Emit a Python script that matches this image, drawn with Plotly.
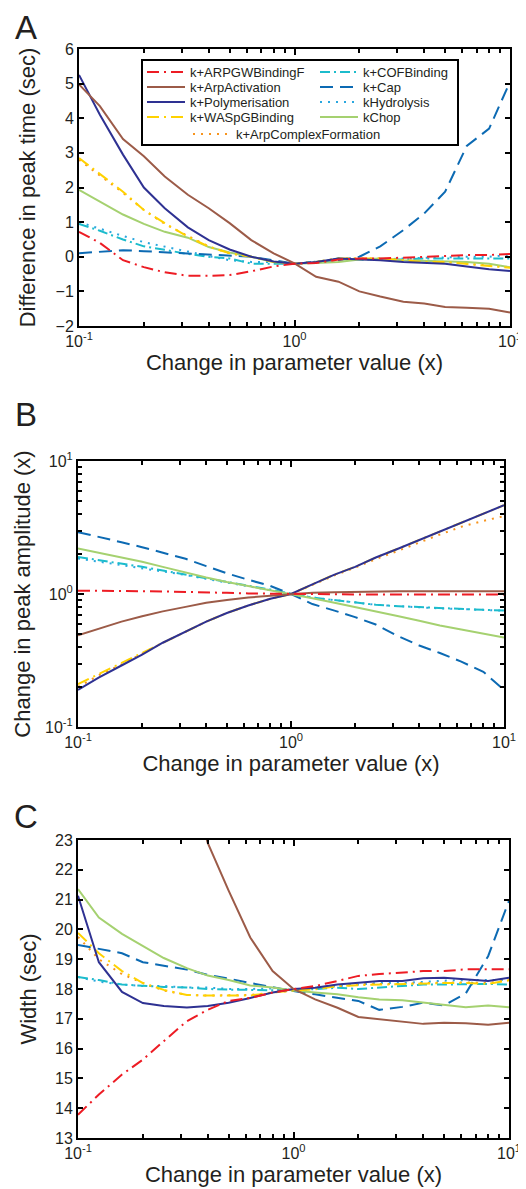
import plotly.graph_objects as go

# ---------------- data ----------------
param_change = [0.1, 0.125, 0.16, 0.2, 0.25, 0.32, 0.4, 0.5, 0.63, 0.8, 1.0,
                1.26, 1.6, 2.0, 2.5, 3.2, 4.0, 5.0, 6.3, 8.0, 10.0]

series_names = ["k+ARPGWBindingF", "k+COFBinding", "k+ArpActivation", "k+Cap",
                "k+Polymerisation", "kHydrolysis", "k+WASpGBinding", "kChop",
                "k+ArpComplexFormation"]

# Panel A: difference in peak time (sec)
peak_time_arpgw = [0.72, 0.4, -0.1, -0.3, -0.45, -0.55, -0.55, -0.53, -0.42, -0.28, -0.2,
                   -0.18, -0.08, -0.05, -0.05, -0.03, 0.0, 0.02, 0.05, 0.05, 0.08]
peak_time_cof = [0.95, 0.75, 0.5, 0.3, 0.2, 0.08, 0.0, -0.05, -0.2, -0.2, -0.2,
                 -0.15, -0.05, -0.08, -0.08, -0.08, -0.05, -0.05, -0.05, -0.05, -0.05]
peak_time_arpact = [4.98, 4.35, 3.4, 2.9, 2.32, 1.79, 1.4, 0.97, 0.48, 0.1, -0.19,
                    -0.58, -0.72, -1.0, -1.15, -1.3, -1.35, -1.45, -1.47, -1.5, -1.61]
peak_time_cap = [0.1, 0.15, 0.19, 0.16, 0.13, 0.1, 0.08, 0.05, 0.0, -0.1, -0.2,
                 -0.15, -0.1, 0.0, 0.3, 0.77, 1.25, 1.88, 3.2, 3.7, 5.05]
peak_time_poly = [5.25, 4.1, 2.95, 2.0, 1.4, 0.85, 0.48, 0.21, 0.0, -0.14, -0.2,
                  -0.15, -0.05, -0.07, -0.1, -0.15, -0.18, -0.2, -0.28, -0.36, -0.41]
peak_time_hydro = [1.0, 0.8, 0.6, 0.42, 0.3, 0.15, 0.02, -0.1, -0.15, -0.15, -0.2,
                   -0.15, -0.08, -0.08, -0.08, -0.05, -0.03, -0.02, 0.0, 0.0, 0.05]
peak_time_wasp = [2.85, 2.4, 1.88, 1.35, 0.97, 0.58, 0.29, 0.1, 0.0, -0.15, -0.2,
                  -0.15, -0.05, -0.05, -0.05, -0.1, -0.15, -0.15, -0.2, -0.25, -0.32]
peak_time_chop = [1.93, 1.6, 1.22, 0.95, 0.72, 0.55, 0.28, 0.12, 0.0, -0.15, -0.2,
                  -0.18, -0.15, -0.08, -0.05, -0.1, -0.12, -0.12, -0.15, -0.2, -0.3]
peak_time_arpcf = [2.8, 2.35, 1.85, 1.35, 0.95, 0.6, 0.3, 0.1, 0.0, -0.15, -0.2,
                   -0.15, -0.05, -0.05, -0.05, -0.1, -0.12, -0.15, -0.2, -0.25, -0.3]

# Panel B: change in peak amplitude (x)
amp_arpgw = [1.06, 1.06, 1.055, 1.05, 1.045, 1.04, 1.03, 1.02, 1.01, 1.005, 1.0,
             0.995, 0.99, 0.99, 0.99, 0.99, 0.99, 0.99, 0.99, 0.99, 0.99]
amp_cof = [1.9, 1.8, 1.7, 1.6, 1.5, 1.4, 1.32, 1.24, 1.16, 1.08, 1.0,
           0.94, 0.9, 0.86, 0.83, 0.81, 0.8, 0.79, 0.77, 0.76, 0.75]
amp_arpact = [0.49, 0.55, 0.62, 0.68, 0.74, 0.8, 0.86, 0.9, 0.94, 0.97, 1.0,
              1.02, 1.03, 1.04, 1.045, 1.05, 1.05, 1.05, 1.05, 1.05, 1.05]
amp_cap = [2.92, 2.7, 2.45, 2.25, 2.05, 1.84, 1.62, 1.43, 1.28, 1.15, 1.0,
           0.84, 0.75, 0.67, 0.59, 0.48, 0.41, 0.36, 0.31, 0.26, 0.19]
amp_poly = [0.19, 0.235, 0.29, 0.35, 0.43, 0.52, 0.62, 0.72, 0.82, 0.92, 1.0,
            1.18, 1.4, 1.6, 1.88, 2.2, 2.55, 2.95, 3.45, 4.0, 4.65]
amp_hydro = [1.85, 1.75, 1.66, 1.57, 1.48, 1.39, 1.3, 1.22, 1.15, 1.07, 1.0,
             0.94, 0.9, 0.86, 0.83, 0.81, 0.79, 0.78, 0.77, 0.76, 0.75]
amp_wasp = [0.21, 0.25, 0.3, 0.36, 0.43, 0.52, 0.62, 0.72, 0.82, 0.92, 1.0,
            1.18, 1.4, 1.6, 1.88, 2.2, 2.55, 2.95, 3.45, 4.0, 4.65]
amp_chop = [2.2, 2.05, 1.88, 1.75, 1.6, 1.45, 1.33, 1.23, 1.15, 1.07, 1.0,
            0.93, 0.86, 0.8, 0.74, 0.68, 0.63, 0.58, 0.54, 0.5, 0.47]
amp_arpcf = [0.2, 0.245, 0.295, 0.355, 0.43, 0.52, 0.62, 0.72, 0.82, 0.92, 1.0,
             1.17, 1.38, 1.58, 1.83, 2.12, 2.45, 2.8, 3.2, 3.55, 3.85]

# Panel C: width (sec)
width_arpgw = [13.78, 14.46, 15.13, 15.63, 16.25, 16.92, 17.3, 17.6, 17.7, 17.88, 18.0,
               18.1, 18.27, 18.44, 18.5, 18.55, 18.6, 18.6, 18.66, 18.66, 18.66]
width_cof = [18.4, 18.3, 18.15, 18.1, 18.07, 18.05, 18.0, 17.98, 17.97, 17.98, 17.95,
             18.0, 18.04, 18.0, 18.05, 18.1, 18.15, 18.15, 18.17, 18.17, 18.15]
width_arpact = [None, None, None, None, None, 25.4, 22.9, 21.3, 19.73, 18.6, 18.0,
                17.65, 17.37, 17.06, 16.98, 16.9, 16.83, 16.87, 16.85, 16.8, 16.87]
width_cap = [19.48, 19.35, 19.2, 18.9, 18.78, 18.65, 18.47, 18.35, 18.2, 18.05, 17.93,
             17.82, 17.7, 17.6, 17.3, 17.4, 17.54, 17.45, 17.85, 19.1, 20.96]
width_poly = [21.13, 18.9, 17.9, 17.53, 17.43, 17.38, 17.43, 17.54, 17.7, 17.88, 18.0,
              18.04, 18.15, 18.2, 18.27, 18.27, 18.36, 18.38, 18.32, 18.27, 18.38]
width_hydro = [18.4, 18.25, 18.15, 18.1, 18.1, 18.05, 18.05, 18.0, 18.0, 18.02, 17.97,
               18.05, 18.1, 18.15, 18.2, 18.2, 18.25, 18.28, 18.3, 18.3, 18.3]
width_wasp = [19.88, 19.2, 18.6, 18.2, 17.97, 17.8, 17.78, 17.78, 17.78, 17.88, 17.95,
              17.99, 18.1, 18.13, 18.15, 18.15, 18.17, 18.2, 18.2, 18.17, 18.29]
width_chop = [21.35, 20.4, 19.85, 19.45, 19.04, 18.7, 18.45, 18.3, 18.12, 18.05, 17.95,
              17.88, 17.82, 17.72, 17.65, 17.62, 17.54, 17.48, 17.39, 17.45, 17.39]
width_arpcf = [19.75, 19.0, 18.5, 18.2, 17.95, 17.8, 17.78, 17.8, 17.8, 17.88, 17.95,
               18.0, 18.1, 18.15, 18.17, 18.17, 18.2, 18.22, 18.22, 18.2, 18.3]

x_tick_vals = [0.1, 1, 10]
x_tick_text = ["10<sup>-1</sup>", "10<sup>0</sup>", "10<sup>1</sup>"]
minor_log_vals = [0.2, 0.3, 0.4, 0.5, 0.6, 0.7, 0.8, 0.9, 2, 3, 4, 5, 6, 7, 8, 9]

# ---------------- styles ----------------
styles = {
    "k+ARPGWBindingF": dict(color="#ed1c24", dash="12px,5px,2px,5px"),
    "k+COFBinding": dict(color="#1cbccc", dash="10px,4px,2px,4px"),
    "k+ArpActivation": dict(color="#9c5b48", dash="solid"),
    "k+Cap": dict(color="#0c6ab3", dash="13px,7px"),
    "k+Polymerisation": dict(color="#2e3192", dash="solid"),
    "kHydrolysis": dict(color="#2aa7df", dash="2px,6px"),
    "k+WASpGBinding": dict(color="#ffd200", dash="12px,5px,2px,5px"),
    "kChop": dict(color="#a5d170", dash="solid"),
    "k+ArpComplexFormation": dict(color="#f7941d", dash="2px,6px"),
}
draw_order = ["kHydrolysis", "k+ArpComplexFormation", "k+COFBinding", "k+Cap",
              "kChop", "k+WASpGBinding", "k+Polymerisation", "k+ArpActivation",
              "k+ARPGWBindingF"]

# legend slot of each entry in the reference layout: (text left px, row centre px)
legend_slots = {
    "k+ARPGWBindingF": (190, 72), "k+COFBinding": (363, 72),
    "k+ArpActivation": (190, 87), "k+Cap": (363, 87),
    "k+Polymerisation": (190, 102), "kHydrolysis": (363, 102),
    "k+WASpGBinding": (190, 117), "kChop": (363, 117),
    "k+ArpComplexFormation": (236, 134),
}

panelA = dict(zip(series_names, [peak_time_arpgw, peak_time_cof, peak_time_arpact, peak_time_cap,
                                 peak_time_poly, peak_time_hydro, peak_time_wasp, peak_time_chop,
                                 peak_time_arpcf]))
panelB = dict(zip(series_names, [amp_arpgw, amp_cof, amp_arpact, amp_cap, amp_poly, amp_hydro,
                                 amp_wasp, amp_chop, amp_arpcf]))
panelC = dict(zip(series_names, [width_arpgw, width_cof, width_arpact, width_cap, width_poly,
                                 width_hydro, width_wasp, width_chop, width_arpcf]))

# page body has an 8px margin; figure is sized so the screenshot window shows it fully
OFF = 8
W, H = 526 - OFF, 1189 - OFF
FONT = "Liberation Sans, Arial, Helvetica, sans-serif"
INK = "#231f20"


def fx(px):
    return (px - OFF) / W


def fy(py):
    return 1 - (py - OFF) / H


legend_keys = {name: ("legend" if i == 0 else f"legend{i + 1}")
               for i, name in enumerate(series_names)}

fig = go.Figure()
for panel, (xa, ya) in zip([panelA, panelB, panelC], [("x", "y"), ("x2", "y2"), ("x3", "y3")]):
    for name in draw_order:
        st = styles[name]
        fig.add_trace(go.Scatter(
            x=param_change, y=panel[name], mode="lines", name=name,
            xaxis=xa, yaxis=ya, connectgaps=False,
            line=dict(color=st["color"], dash=st["dash"], width=2),
            showlegend=(xa == "x"),
            legend=legend_keys[name],
            hoverinfo="skip",
        ))

tickfont = dict(family=FONT, size=16, color=INK)
titlefont = dict(family=FONT, size=22, color=INK)


def common_axis():
    return dict(
        ticks="inside", tickwidth=1.5, tickcolor="black",
        showline=True, linecolor="black", linewidth=2, mirror="ticks",
        showgrid=False, zeroline=False, tickfont=tickfont, automargin=False,
    )


def log_axis(domain, anchor, title, standoff):
    d = common_axis()
    d.update(
        type="log", range=[-1, 1], domain=domain, anchor=anchor,
        tickmode="array", tickvals=x_tick_vals, ticktext=x_tick_text, ticklen=6,
        minor=dict(tickmode="array", tickvals=minor_log_vals, ticks="inside",
                   ticklen=4, tickwidth=1.5, tickcolor="black"),
        title=dict(text=title, font=titlefont, standoff=standoff),
    )
    return d


def lin_axis(domain, anchor, title, rng, tick0, standoff):
    d = common_axis()
    d.update(domain=domain, anchor=anchor, range=rng, dtick=1, tick0=tick0, ticklen=5,
             title=dict(text=title, font=titlefont, standoff=standoff))
    return d


legend_layout = {}
for name, key in legend_keys.items():
    tx, ty = legend_slots[name]
    legend_layout[key] = dict(
        x=fx(tx - 48), y=fy(ty), xref="paper", yref="paper",
        xanchor="left", yanchor="middle", orientation="v",
        font=dict(family=FONT, size=13, color=INK), bgcolor="rgba(0,0,0,0)",
        borderwidth=0, itemwidth=38,
    )

panel_letters = [
    dict(text="A", x=fx(26), y=1.0, xanchor="center", yanchor="top"),
    dict(text="B", x=fx(26), y=fy(414), xanchor="center", yanchor="middle"),
    dict(text="C", x=fx(26), y=fy(816), xanchor="center", yanchor="middle"),
]

fig.update_layout(
    template="none",
    width=W, height=H, margin=dict(l=0, r=0, t=0, b=0, pad=0),
    paper_bgcolor="white", plot_bgcolor="white",
    font=dict(family=FONT, color=INK),
    xaxis=log_axis([fx(79), fx(510)], "y", "Change in parameter value (x)", 2),
    xaxis2=log_axis([fx(78), fx(504)], "y2", "Change in parameter value (x)", 2),
    xaxis3=log_axis([fx(78), fx(509)], "y3", "Change in parameter value (x)", 2),
    yaxis=lin_axis([fy(326), fy(49)], "x", "Difference in peak time (sec)", [-2, 6], 0, 14),
    yaxis2=log_axis([fy(727), fy(461)], "x2", "Change in peak amplitude (x)", 8),
    yaxis3=lin_axis([fy(1138), fy(840)], "x3", "Width (sec)", [13, 23], 13, 12),
    shapes=[dict(type="rect", xref="paper", yref="paper",
                 x0=fx(142), x1=fx(458), y0=fy(145), y1=fy(60),
                 line=dict(color="black", width=2), fillcolor="white", layer="below")],
    annotations=[
        dict(xref="paper", yref="paper", showarrow=False, borderpad=0,
             font=dict(family=FONT, size=33, color=INK), **pl)
        for pl in panel_letters
    ],
    **legend_layout,
)

fig.write_html("out.html")
